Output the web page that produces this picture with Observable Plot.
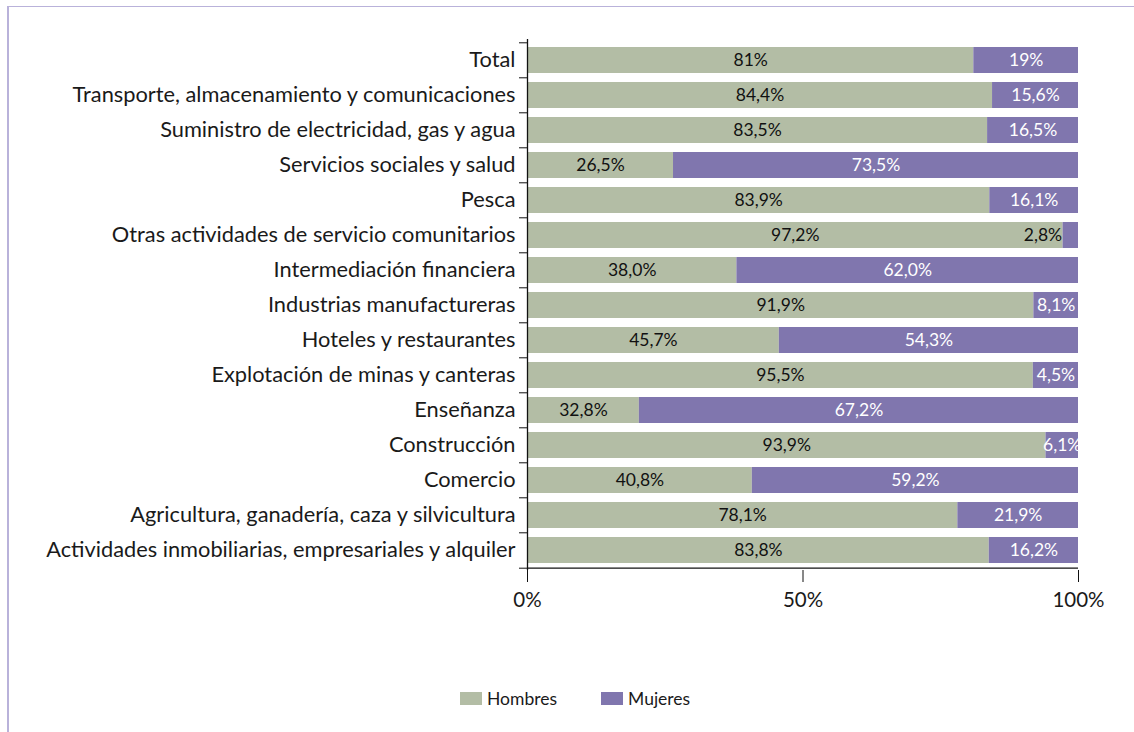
<!DOCTYPE html>
<html>
<head>
<meta charset="utf-8">
<script src="https://cdn.jsdelivr.net/npm/d3@7"></script>
<script src="https://cdn.jsdelivr.net/npm/@observablehq/plot@0.6"></script>
<style>
  html, body { margin: 0; padding: 0; background: #fff; }
  body { width: 1134px; height: 732px; position: relative; overflow: hidden; font-family: Lato, sans-serif; }
  #border { position: absolute; left: 7px; top: 6px; right: -4px; bottom: -4px; border-top: 1.5px solid #b9b2da; border-left: 2px solid #b9b2da; }
  #chart { position: absolute; left: 0; top: 0; }
  #legend { position: absolute; left: 460px; top: 688px; display: flex; align-items: center; font-size: 17.5px; color: #1a1a1a; }
  .item { display: flex; align-items: center; margin-right: 44px; }
  .sw { width: 22px; height: 13px; margin-right: 5px; }
</style>
</head>
<body>
<div id="border"></div>
<div id="chart"></div>
<div id="legend"></div>
<script>
const categorias = [
  "Total",
  "Transporte, almacenamiento y comunicaciones",
  "Suministro de electricidad, gas y agua",
  "Servicios sociales y salud",
  "Pesca",
  "Otras actividades de servicio comunitarios",
  "Intermediación financiera",
  "Industrias manufactureras",
  "Hoteles y restaurantes",
  "Explotación de minas y canteras",
  "Enseñanza",
  "Construcción",
  "Comercio",
  "Agricultura, ganadería, caza y silvicultura",
  "Actividades inmobiliarias, empresariales y alquiler"
];
// bar lengths as drawn in the picture
const hombres = [81, 84.4, 83.5, 26.5, 83.9, 97.2, 38.0, 91.9, 45.7, 91.8, 20.3, 94.1, 40.8, 78.1, 83.8];
const mujeres = [19, 15.6, 16.5, 73.5, 16.1, 2.8, 62.0, 8.1, 54.3, 8.2, 79.7, 5.9, 59.2, 21.9, 16.2];
// printed labels
const etiquetasHombres = ["81%", "84,4%", "83,5%", "26,5%", "83,9%", "97,2%", "38,0%", "91,9%", "45,7%", "95,5%", "32,8%", "93,9%", "40,8%", "78,1%", "83,8%"];
const etiquetasMujeres = ["19%", "15,6%", "16,5%", "73,5%", "16,1%", "2,8%", "62,0%", "8,1%", "54,3%", "4,5%", "67,2%", "6,1%", "59,2%", "21,9%", "16,2%"];
const series = ["Hombres", "Mujeres"];
const colores = ["#b3bda5", "#8076ae"];
const ticksX = [0, 50, 100];
const etiquetasX = ["0%", "50%", "100%"];

const filas = [];
categorias.forEach((c, i) => {
  filas.push({cat: c, sexo: "Hombres", x1: 0, x2: hombres[i], label: etiquetasHombres[i], v: hombres[i]});
  filas.push({cat: c, sexo: "Mujeres", x1: hombres[i], x2: hombres[i] + mujeres[i], label: etiquetasMujeres[i], v: mujeres[i]});
});
const filasH = filas.filter(d => d.sexo === "Hombres");
const filasM = filas.filter(d => d.sexo === "Mujeres" && d.v >= 3);
const filasMpeq = filas.filter(d => d.sexo === "Mujeres" && d.v < 3);

const W = 1134, H = 620, mT = 39, mB = 50, mL = 527, mR = 56;
const step = (H - mT - mB) / categorias.length;

const chart = Plot.plot({
  width: W, height: H,
  marginTop: mT, marginBottom: mB, marginLeft: mL, marginRight: mR,
  style: {fontFamily: "Lato, sans-serif", fontSize: "17px", color: "#1a1a1a", background: "transparent"},
  x: {domain: [0, 100]},
  y: {domain: categorias, paddingInner: 0.265, paddingOuter: 0.1325, label: null},
  color: {domain: series, range: colores},
  marks: [
    Plot.barX(filas, {x1: "x1", x2: "x2", y: "cat", fill: "sexo"}),
    Plot.text(filasH, {x: d => (d.x1 + d.x2) / 2, y: "cat", text: "label", fill: "#111", fontSize: 17.5}),
    Plot.text(filasM, {x: d => (d.x1 + d.x2) / 2, y: "cat", text: "label", fill: "#fff", fontSize: 17.5}),
    Plot.text(filasMpeq, {x: "x1", y: "cat", text: "label", fill: "#111", fontSize: 17.5, textAnchor: "end", dx: -1}),
    Plot.ruleX([0], {stroke: "#111", strokeWidth: 1.3}),
    Plot.ruleY([categorias[categorias.length - 1]], {dy: step / 2, stroke: "#111", strokeWidth: 1.3}),
    Plot.axisY({tickSize: 0, tickPadding: 12, fontSize: 21.8, fill: "#1a1a1a", label: null}),
    Plot.axisY({tickSize: 8, tickFormat: () => "", dy: -step / 2, stroke: "#111", label: null}),
    Plot.axisY({ticks: [categorias[categorias.length - 1]], tickSize: 8, tickFormat: () => "", dy: step / 2, stroke: "#111", label: null}),
    Plot.axisX({ticks: ticksX, tickFormat: (d) => etiquetasX[ticksX.indexOf(d)], tickSize: 12, tickPadding: 10, fontSize: 20.5, stroke: "#111", fill: "#1a1a1a", label: null})
  ]
});
document.getElementById("chart").appendChild(chart);

const leg = document.getElementById("legend");
series.forEach((s, i) => {
  const it = document.createElement("div");
  it.className = "item";
  const sw = document.createElement("div");
  sw.className = "sw";
  sw.style.background = colores[i];
  const t = document.createElement("span");
  t.textContent = s;
  it.appendChild(sw); it.appendChild(t);
  leg.appendChild(it);
});
</script>
</body>
</html>
